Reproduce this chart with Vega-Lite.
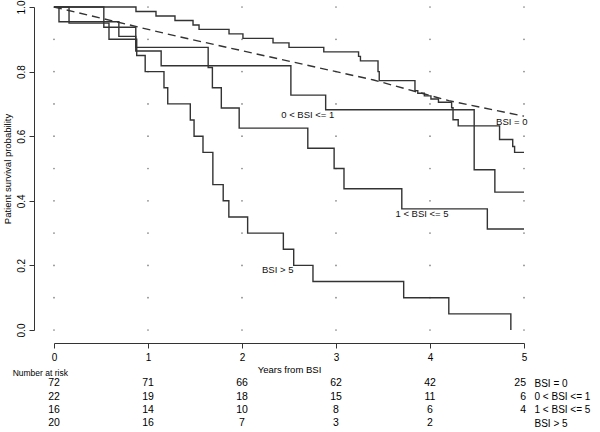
{
  "$schema": "https://vega.github.io/schema/vega-lite/v6.json",
  "padding": {"left": 2, "top": 0, "right": 5, "bottom": 0},
  "background": "white",
  "spacing": 33.3,
  "bounds": "flush",
  "config": {"view": {"stroke": null}, "font": "Liberation Sans"},
  "datasets": {
    "grid": [
      {"t":0,"s":0},{"t":0,"s":0.1},{"t":0,"s":0.2},{"t":0,"s":0.3},{"t":0,"s":0.4},{"t":0,"s":0.5},{"t":0,"s":0.6},{"t":0,"s":0.7},{"t":0,"s":0.8},{"t":0,"s":0.9},{"t":0,"s":1},
      {"t":1,"s":0},{"t":1,"s":0.1},{"t":1,"s":0.2},{"t":1,"s":0.3},{"t":1,"s":0.4},{"t":1,"s":0.5},{"t":1,"s":0.6},{"t":1,"s":0.7},{"t":1,"s":0.8},{"t":1,"s":0.9},{"t":1,"s":1},
      {"t":2,"s":0},{"t":2,"s":0.1},{"t":2,"s":0.2},{"t":2,"s":0.3},{"t":2,"s":0.4},{"t":2,"s":0.5},{"t":2,"s":0.6},{"t":2,"s":0.7},{"t":2,"s":0.8},{"t":2,"s":0.9},{"t":2,"s":1},
      {"t":3,"s":0},{"t":3,"s":0.1},{"t":3,"s":0.2},{"t":3,"s":0.3},{"t":3,"s":0.4},{"t":3,"s":0.5},{"t":3,"s":0.6},{"t":3,"s":0.7},{"t":3,"s":0.8},{"t":3,"s":0.9},{"t":3,"s":1},
      {"t":4,"s":0},{"t":4,"s":0.1},{"t":4,"s":0.2},{"t":4,"s":0.3},{"t":4,"s":0.4},{"t":4,"s":0.5},{"t":4,"s":0.6},{"t":4,"s":0.7},{"t":4,"s":0.8},{"t":4,"s":0.9},{"t":4,"s":1},
      {"t":5,"s":0},{"t":5,"s":0.1},{"t":5,"s":0.2},{"t":5,"s":0.3},{"t":5,"s":0.4},{"t":5,"s":0.5},{"t":5,"s":0.6},{"t":5,"s":0.7},{"t":5,"s":0.8},{"t":5,"s":0.9},{"t":5,"s":1}
    ],
    "km": [
      {"group":"BSI = 0","t":0,"s":1},{"group":"BSI = 0","t":0.872,"s":0.9861},{"group":"BSI = 0","t":1.085,"s":0.9722},{"group":"BSI = 0","t":1.287,"s":0.9583},{"group":"BSI = 0","t":1.479,"s":0.9444},{"group":"BSI = 0","t":1.543,"s":0.9306},{"group":"BSI = 0","t":1.862,"s":0.9167},{"group":"BSI = 0","t":2.01,"s":0.9028},{"group":"BSI = 0","t":2.33,"s":0.8889},{"group":"BSI = 0","t":2.5,"s":0.875},{"group":"BSI = 0","t":2.87,"s":0.8611},{"group":"BSI = 0","t":3.24,"s":0.8472},{"group":"BSI = 0","t":3.26,"s":0.8333},{"group":"BSI = 0","t":3.447,"s":0.8},{"group":"BSI = 0","t":3.46,"s":0.772},{"group":"BSI = 0","t":3.84,"s":0.741},{"group":"BSI = 0","t":3.87,"s":0.733},{"group":"BSI = 0","t":3.94,"s":0.725},{"group":"BSI = 0","t":4.01,"s":0.715},{"group":"BSI = 0","t":4.09,"s":0.705},{"group":"BSI = 0","t":4.23,"s":0.688},{"group":"BSI = 0","t":4.245,"s":0.651},{"group":"BSI = 0","t":4.3,"s":0.632},{"group":"BSI = 0","t":4.74,"s":0.59},{"group":"BSI = 0","t":4.88,"s":0.568},{"group":"BSI = 0","t":4.9,"s":0.55},{"group":"BSI = 0","t":5,"s":0.55},
      {"group":"0 < BSI <= 1","t":0,"s":1},{"group":"0 < BSI <= 1","t":0.053,"s":0.9545},{"group":"0 < BSI <= 1","t":0.69,"s":0.9091},{"group":"0 < BSI <= 1","t":0.87,"s":0.8636},{"group":"0 < BSI <= 1","t":1.14,"s":0.8182},{"group":"0 < BSI <= 1","t":2.52,"s":0.7273},{"group":"0 < BSI <= 1","t":2.89,"s":0.6818},{"group":"0 < BSI <= 1","t":4.47,"s":0.496},{"group":"0 < BSI <= 1","t":4.69,"s":0.427},{"group":"0 < BSI <= 1","t":5,"s":0.427},
      {"group":"1 < BSI <= 5","t":0,"s":1},{"group":"1 < BSI <= 5","t":0.53,"s":0.9375},{"group":"1 < BSI <= 5","t":0.87,"s":0.875},{"group":"1 < BSI <= 5","t":1.64,"s":0.8125},{"group":"1 < BSI <= 5","t":1.685,"s":0.75},{"group":"1 < BSI <= 5","t":1.78,"s":0.6875},{"group":"1 < BSI <= 5","t":1.97,"s":0.625},{"group":"1 < BSI <= 5","t":2.7,"s":0.5625},{"group":"1 < BSI <= 5","t":2.98,"s":0.5},{"group":"1 < BSI <= 5","t":3.085,"s":0.4375},{"group":"1 < BSI <= 5","t":3.7,"s":0.375},{"group":"1 < BSI <= 5","t":4.61,"s":0.3125},{"group":"1 < BSI <= 5","t":5,"s":0.3125},
      {"group":"BSI > 5","t":0,"s":1},{"group":"BSI > 5","t":0.16,"s":0.95},{"group":"BSI > 5","t":0.585,"s":0.9},{"group":"BSI > 5","t":0.88,"s":0.85},{"group":"BSI > 5","t":0.97,"s":0.8},{"group":"BSI > 5","t":1.17,"s":0.75},{"group":"BSI > 5","t":1.21,"s":0.7},{"group":"BSI > 5","t":1.45,"s":0.65},{"group":"BSI > 5","t":1.49,"s":0.6},{"group":"BSI > 5","t":1.585,"s":0.55},{"group":"BSI > 5","t":1.69,"s":0.45},{"group":"BSI > 5","t":1.8,"s":0.4},{"group":"BSI > 5","t":1.86,"s":0.35},{"group":"BSI > 5","t":2.06,"s":0.3},{"group":"BSI > 5","t":2.44,"s":0.25},{"group":"BSI > 5","t":2.55,"s":0.2},{"group":"BSI > 5","t":2.755,"s":0.15},{"group":"BSI > 5","t":3.72,"s":0.1},{"group":"BSI > 5","t":4.2,"s":0.05},{"group":"BSI > 5","t":4.86,"s":0}
    ],
    "expected": [
      {"t":0,"s":1},{"t":1.3,"s":0.91},{"t":3.4,"s":0.774},{"t":4.2,"s":0.71},{"t":5,"s":0.662}
    ],
    "labels": [
      {"label":"BSI = 0","t":4.87,"s":0.645},
      {"label":"0 < BSI <= 1","t":2.7,"s":0.666},
      {"label":"1 < BSI <= 5","t":3.915,"s":0.359},
      {"label":"BSI > 5","t":2.38,"s":0.186}
    ],
    "header": [
      {"label":"Number at risk","t":-0.44,"group":"Number at risk"}
    ],
    "risk": [
      {"group":"BSI = 0","t":0,"n":72},{"group":"BSI = 0","t":1,"n":71},{"group":"BSI = 0","t":2,"n":66},{"group":"BSI = 0","t":3,"n":62},{"group":"BSI = 0","t":4,"n":42},{"group":"BSI = 0","t":5,"n":25},
      {"group":"0 < BSI <= 1","t":0,"n":22},{"group":"0 < BSI <= 1","t":1,"n":19},{"group":"0 < BSI <= 1","t":2,"n":18},{"group":"0 < BSI <= 1","t":3,"n":15},{"group":"0 < BSI <= 1","t":4,"n":11},{"group":"0 < BSI <= 1","t":5,"n":6},
      {"group":"1 < BSI <= 5","t":0,"n":16},{"group":"1 < BSI <= 5","t":1,"n":14},{"group":"1 < BSI <= 5","t":2,"n":10},{"group":"1 < BSI <= 5","t":3,"n":8},{"group":"1 < BSI <= 5","t":4,"n":6},{"group":"1 < BSI <= 5","t":5,"n":4},
      {"group":"BSI > 5","t":0,"n":20},{"group":"BSI > 5","t":1,"n":16},{"group":"BSI > 5","t":2,"n":7},{"group":"BSI > 5","t":3,"n":3},{"group":"BSI > 5","t":4,"n":2}
    ]
  },
  "vconcat": [
    {
      "width": 470,
      "height": 323,
      "encoding": {
        "x": {"field": "t", "type": "quantitative",
          "scale": {"domain": [0, 5], "nice": false, "zero": false},
          "axis": {"values": [0,1,2,3,4,5], "format": "d", "offset": 13, "tickSize": 5, "labelPadding": 4, "labelFontSize": 10, "labelColor": "#000", "domainColor": "#333", "tickColor": "#333", "grid": false, "labelFlush": false, "title": "Years from BSI", "titleFontWeight": "normal", "titleFontSize": 9.5, "titleColor": "#000", "titlePadding": 2}},
        "y": {"field": "s", "type": "quantitative",
          "scale": {"domain": [0, 1], "nice": false, "zero": false},
          "axis": {"values": [0,0.2,0.4,0.6,0.8,1], "format": ".1f", "offset": 20, "tickSize": 5, "labelAngle": -90, "labelAlign": "center", "labelBaseline": "bottom", "labelPadding": 3, "labelFontSize": 10, "labelColor": "#000", "domainColor": "#333", "tickColor": "#333", "grid": false, "labelFlush": false, "title": "Patient survival probability", "titleFontWeight": "normal", "titleFontSize": 9.5, "titleColor": "#000", "titlePadding": 4}}
      },
      "layer": [
        {"data": {"name": "grid"}, "mark": {"type": "point", "filled": true, "size": 3, "color": "#888", "opacity": 1}},
        {"data": {"name": "km"}, "mark": {"type": "line", "interpolate": "step-after", "color": "#333", "strokeWidth": 1.4},
          "encoding": {"detail": {"field": "group", "type": "nominal"}}},
        {"data": {"name": "expected"}, "mark": {"type": "line", "color": "#333", "strokeWidth": 1.4, "strokeDash": [8, 5]}},
        {"data": {"name": "labels"}, "mark": {"type": "text", "fontSize": 9.5, "color": "#111", "align": "center", "baseline": "middle"},
          "encoding": {"text": {"field": "label", "type": "nominal"}}}
      ]
    },
    {
      "width": 470,
      "height": 66.7,
      "encoding": {
        "x": {"field": "t", "type": "quantitative", "scale": {"domain": [0, 5], "nice": false, "zero": false}, "axis": null},
        "y": {"field": "group", "type": "nominal",
          "scale": {"type": "point", "domain": ["Number at risk", "BSI = 0", "0 < BSI <= 1", "1 < BSI <= 5", "BSI > 5"], "padding": 0.5},
          "axis": {"orient": "right", "values": ["BSI = 0", "0 < BSI <= 1", "1 < BSI <= 5", "BSI > 5"], "domain": false, "ticks": false, "tickSize": 0, "labelPadding": 10, "labelAlign": "left", "labelFontSize": 10, "labelColor": "#000", "title": null}}
      },
      "layer": [
        {"data": {"name": "risk"}, "transform": [{"filter": "datum.t < 5"}], "mark": {"type": "text", "fontSize": 10.5, "color": "#000", "align": "center", "baseline": "middle"},
          "encoding": {"text": {"field": "n", "type": "quantitative"}}},
        {"data": {"name": "risk"}, "transform": [{"filter": "datum.t == 5"}], "mark": {"type": "text", "fontSize": 10.5, "color": "#000", "align": "right", "baseline": "middle", "dx": 2},
          "encoding": {"text": {"field": "n", "type": "quantitative"}}},
        {"data": {"name": "header"}, "mark": {"type": "text", "fontSize": 8.5, "color": "#000", "align": "left", "baseline": "middle", "dy": 3},
          "encoding": {"text": {"field": "label", "type": "nominal"}}}
      ]
    }
  ]
}
